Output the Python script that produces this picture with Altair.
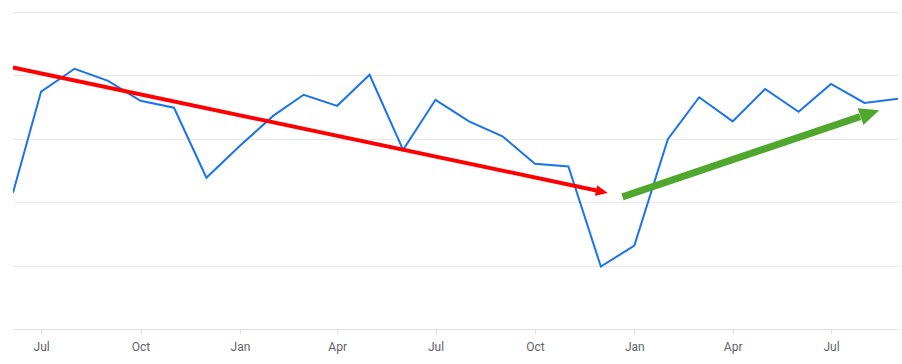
import altair as alt
import pandas as pd

# Monthly series (first sample sits at the left edge of the plot)
dates = [
    "2022-06-05", "2022-07-01", "2022-08-01", "2022-09-01", "2022-10-01", "2022-11-01",
    "2022-12-01", "2023-01-01", "2023-02-01", "2023-03-01", "2023-04-01", "2023-05-01",
    "2023-06-01", "2023-07-01", "2023-08-01", "2023-09-01", "2023-10-01", "2023-11-01",
    "2023-12-01", "2024-01-01", "2024-02-01", "2024-03-01", "2024-04-01", "2024-05-01",
    "2024-06-01", "2024-07-01", "2024-08-01", "2024-09-01",
]
values = [
    43.0, 74.9, 82.1, 78.3, 72.0, 69.8,
    47.7, 57.8, 67.3, 73.9, 70.4, 80.2,
    56.5, 72.3, 65.5, 60.8, 52.1, 51.3,
    19.7, 26.3, 59.9, 73.1, 65.5, 75.7,
    68.5, 77.3, 71.3, 72.6,
]

x_domain = ["2022-06-05", "2024-09-01"]
tick_dates = ["2022-07-01", "2022-10-01", "2023-01-01", "2023-04-01", "2023-07-01",
              "2023-10-01", "2024-01-01", "2024-04-01", "2024-07-01"]
y_ticks = [0, 20, 40, 60, 80, 100]

# Annotation arrows (data coordinates)
arrow_names = ["down", "up"]
arrow_x1 = ["2022-06-05", "2023-12-21"]
arrow_y1 = [82.5, 41.7]
arrow_x2 = ["2023-11-27", "2024-07-28"]
arrow_y2 = [43.7, 67.0]
head_x = ["2023-12-02", "2024-08-06"]
head_y = [43.3, 68.0]

df = pd.DataFrame({"date": dates, "value": values})
arrows = pd.DataFrame({"name": arrow_names, "x1": arrow_x1, "y1": arrow_y1,
                       "x2": arrow_x2, "y2": arrow_y2, "hx": head_x, "hy": head_y})

xscale = alt.Scale(domain=x_domain)
yscale = alt.Scale(domain=[0, 100], nice=False, zero=True)

line = alt.Chart(df).mark_line(color="#1a73e8", strokeWidth=2, clip=True).encode(
    x=alt.X("date:T", scale=xscale, title=None,
            axis=alt.Axis(values=tick_dates, format="%b", labelFont="Roboto",
                          labelFontSize=12, labelColor="#5f6368", tickColor="#e0e0e0",
                          tickSize=5, domainColor="#e0e0e0", grid=False,
                          labelPadding=7, labelOverlap=False)),
    y=alt.Y("value:Q", scale=yscale, title=None,
            axis=alt.Axis(values=y_ticks, labels=False, ticks=False, domain=False,
                          grid=True, gridColor="#e8e8e8", gridWidth=1)),
)

red = arrows[arrows.name == "down"]
green = arrows[arrows.name == "up"]

red_shaft = alt.Chart(red).mark_rule(color="#ff0000", strokeWidth=4, strokeCap="butt").encode(
    x=alt.X("x1:T", scale=xscale), y=alt.Y("y1:Q", scale=yscale),
    x2="x2:T", y2="y2:Q")
red_head = alt.Chart(red).mark_point(
    shape="M1,0L-1,-0.9L-1,0.9Z", filled=True, color="#ff0000", opacity=1,
    size=144, angle=12, strokeWidth=0).encode(
    x=alt.X("hx:T", scale=xscale), y=alt.Y("hy:Q", scale=yscale))

green_shaft = alt.Chart(green).mark_rule(color="#4fa72d", strokeWidth=7, strokeCap="butt").encode(
    x=alt.X("x1:T", scale=xscale), y=alt.Y("y1:Q", scale=yscale),
    x2="x2:T", y2="y2:Q")
green_head = alt.Chart(green).mark_point(
    shape="M1,0L-1,-0.9L-1,0.9Z", filled=True, color="#4fa72d", opacity=1,
    size=390, angle=341, strokeWidth=0).encode(
    x=alt.X("hx:T", scale=xscale), y=alt.Y("hy:Q", scale=yscale))

chart = alt.layer(line, red_shaft, red_head, green_shaft, green_head).properties(
    width=885, height=317, background="white",
    padding={"left": 11, "top": 12, "right": 4, "bottom": 5},
).configure_view(stroke=None)

chart.save("out.html", embed_options={"renderer": "svg", "actions": False})
